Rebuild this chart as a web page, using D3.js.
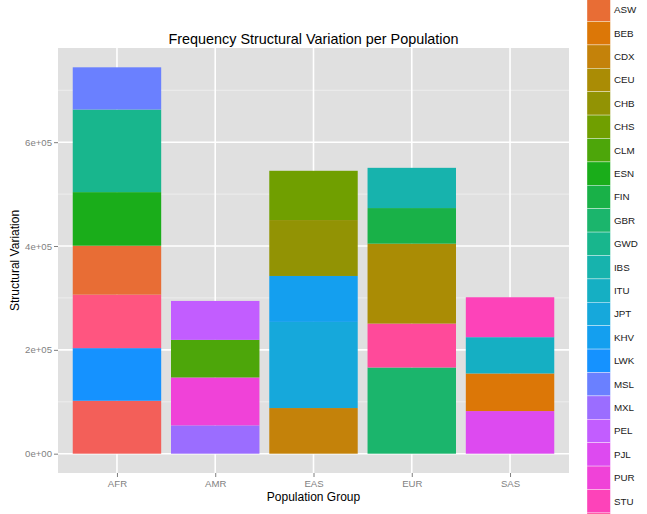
<!DOCTYPE html>
<html>
<head>
<meta charset="utf-8">
<script src="https://cdn.jsdelivr.net/npm/d3@7"></script>
<style>
  body { margin: 0; background: #fff; overflow: hidden; }
  text { font-family: "Liberation Sans", Arial, sans-serif; }
</style>
</head>
<body>
<div id="chart"></div>
<script>
// legend levels (population codes) and their fill colours
const pops = ['ACB', 'ASW', 'BEB', 'CDX', 'CEU', 'CHB', 'CHS', 'CLM', 'ESN', 'FIN', 'GBR', 'GWD', 'IBS',
    'ITU', 'JPT', 'KHV', 'LWK', 'MSL', 'MXL', 'PEL', 'PJL', 'PUR', 'STU', 'TSI', 'YRI'];
const popColors = ['#F35F59', '#E86D35', '#DC7707', '#C4820A', '#AA8C05', '#929304', '#709F00', '#4DA60A',
    '#1AAD1A', '#19B148', '#1BB56C', '#18B68D', '#17B3AD', '#15AFC3', '#16A8DB', '#149FEF', '#1592FF',
    '#6A80FF', '#9B6DFF', '#C25DFF', '#DD4AF0', '#F042D8', '#FD43B9', '#FF4A9A', '#FF5580'];

const groups = ['AFR', 'AMR', 'EAS', 'EUR', 'SAS'];

// stacks, bottom to top, as drawn
const afrPops = ['ACB', 'LWK', 'YRI', 'ASW', 'ESN', 'GWD', 'MSL'];
const afrVals = [101900, 101400, 103000, 94300, 103200, 159100, 81300];
const amrPops = ['MXL', 'PUR', 'CLM', 'PEL'];
const amrVals = [54500, 92300, 72400, 75000];
const easPops = ['CDX', 'JPT', 'KHV', 'CHB', 'CHS'];
const easVals = [87900, 165900, 88500, 107700, 94900];
const eurPops = ['GBR', 'TSI', 'CEU', 'FIN', 'IBS'];
const eurVals = [166000, 84600, 153900, 68600, 77500];
const sasPops = ['PJL', 'BEB', 'ITU', 'STU'];
const sasVals = [82100, 72400, 69900, 76900];

const yTicks = [0, 200000, 400000, 600000];
const yMinor = [100000, 300000, 500000, 700000];
const yTickLabels = ['0e+00', '2e+05', '4e+05', '6e+05'];

const width = 647, height = 514;
const panel = {left: 58, right: 569, top: 48, bottom: 473};

const stackPops = [afrPops, amrPops, easPops, eurPops, sasPops];
const stackVals = [afrVals, amrVals, easVals, eurVals, sasVals];

let segments = [];
groups.forEach((g, gi) => {
    const cum = d3.cumsum(stackVals[gi]);
    stackPops[gi].forEach((p, i) => {
        segments.push({group: g, gi: gi, pop: p, y0: i === 0 ? 0 : cum[i - 1], y1: cum[i]});
    });
});

const maxTotal = d3.max(stackVals, v => d3.sum(v));
const color = d3.scaleOrdinal().domain(pops).range(popColors);

const x = d3.scaleLinear()
    .domain([-0.6, groups.length - 1 + 0.6])
    .range([panel.left, panel.right]);
const y = d3.scaleLinear()
    .domain([-0.05 * maxTotal, 1.05 * maxTotal])
    .range([panel.bottom, panel.top]);

const svg = d3.select('#chart').append('svg')
    .attr('width', width)
    .attr('height', height);

// panel background and grid
svg.append('rect')
    .attr('x', panel.left).attr('y', panel.top)
    .attr('width', panel.right - panel.left)
    .attr('height', panel.bottom - panel.top)
    .attr('fill', '#E0E0E0');

svg.selectAll('.minor')
    .data(yMinor)
    .enter().append('line')
    .attr('x1', panel.left).attr('x2', panel.right)
    .attr('y1', d => y(d)).attr('y2', d => y(d))
    .attr('stroke', '#EDEDED').attr('stroke-width', 1);

svg.selectAll('.hmajor')
    .data(yTicks)
    .enter().append('line')
    .attr('x1', panel.left).attr('x2', panel.right)
    .attr('y1', d => y(d)).attr('y2', d => y(d))
    .attr('stroke', '#fff').attr('stroke-width', 1.6);

svg.selectAll('.vmajor')
    .data(groups)
    .enter().append('line')
    .attr('x1', (d, i) => x(i)).attr('x2', (d, i) => x(i))
    .attr('y1', panel.top).attr('y2', panel.bottom)
    .attr('stroke', '#fff').attr('stroke-width', 1.6);

// bars
const barW = x(0.9) - x(0);
svg.selectAll('.seg')
    .data(segments)
    .enter().append('rect')
    .attr('x', d => x(d.gi) - barW / 2)
    .attr('width', barW)
    .attr('y', d => y(d.y1))
    .attr('height', d => y(d.y0) - y(d.y1))
    .attr('fill', d => color(d.pop));

// y axis
const yAxis = d3.axisLeft(y)
    .tickValues(yTicks)
    .tickFormat((d, i) => yTickLabels[i])
    .tickSize(4).tickPadding(2);
const gy = svg.append('g')
    .attr('transform', `translate(${panel.left},0)`)
    .call(yAxis);
gy.select('.domain').remove();
gy.selectAll('line').attr('stroke', '#7F7F7F');
gy.selectAll('text').attr('fill', '#7F7F7F').style('font-size', '9.6px')
    .style('font-family', '"Liberation Sans", Arial, sans-serif');

// x axis
const xAxis = d3.axisBottom(x)
    .tickValues(d3.range(groups.length))
    .tickFormat(i => groups[i])
    .tickSize(4).tickPadding(3);
const gx = svg.append('g')
    .attr('transform', `translate(0,${panel.bottom})`)
    .call(xAxis);
gx.select('.domain').remove();
gx.selectAll('line').attr('stroke', '#7F7F7F');
gx.selectAll('text').attr('fill', '#7F7F7F').style('font-size', '9.6px')
    .style('font-family', '"Liberation Sans", Arial, sans-serif');

// titles
const midX = (panel.left + panel.right) / 2;
svg.append('text')
    .attr('x', midX).attr('y', 44)
    .attr('text-anchor', 'middle')
    .style('font-size', '14.4px')
    .text('Frequency Structural Variation per Population');

svg.append('text')
    .attr('x', midX).attr('y', 501)
    .attr('text-anchor', 'middle')
    .style('font-size', '12px')
    .text('Population Group');

svg.append('text')
    .attr('transform', `translate(19,${(panel.top + panel.bottom) / 2}) rotate(-90)`)
    .attr('text-anchor', 'middle')
    .style('font-size', '12px')
    .text('Structural Variation');

// legend: taller than the window, so keys run off both edges;
// only the labels that fall inside the window are written
const keySize = 23.4;
const legendTop = -25.3;
const legend = svg.append('g').attr('transform', `translate(587,${legendTop})`);

const keys = legend.selectAll('.key')
    .data(pops)
    .enter().append('g')
    .attr('transform', (d, i) => `translate(0,${i * keySize})`);

keys.append('rect')
    .attr('width', keySize).attr('height', keySize)
    .attr('fill', d => color(d))
    .attr('stroke', '#fff').attr('stroke-width', 0.6).attr('stroke-opacity', 0.6);

keys.filter((d, i) => {
        const cy = legendTop + i * keySize + keySize / 2;
        return cy > 6 && cy < height - 6;
    })
    .append('text')
    .attr('x', keySize + 3.5)
    .attr('y', keySize / 2)
    .attr('dy', '0.35em')
    .attr('fill', '#1A1A1A')
    .style('font-size', '9.8px')
    .text(d => d);
</script>
</body>
</html>
